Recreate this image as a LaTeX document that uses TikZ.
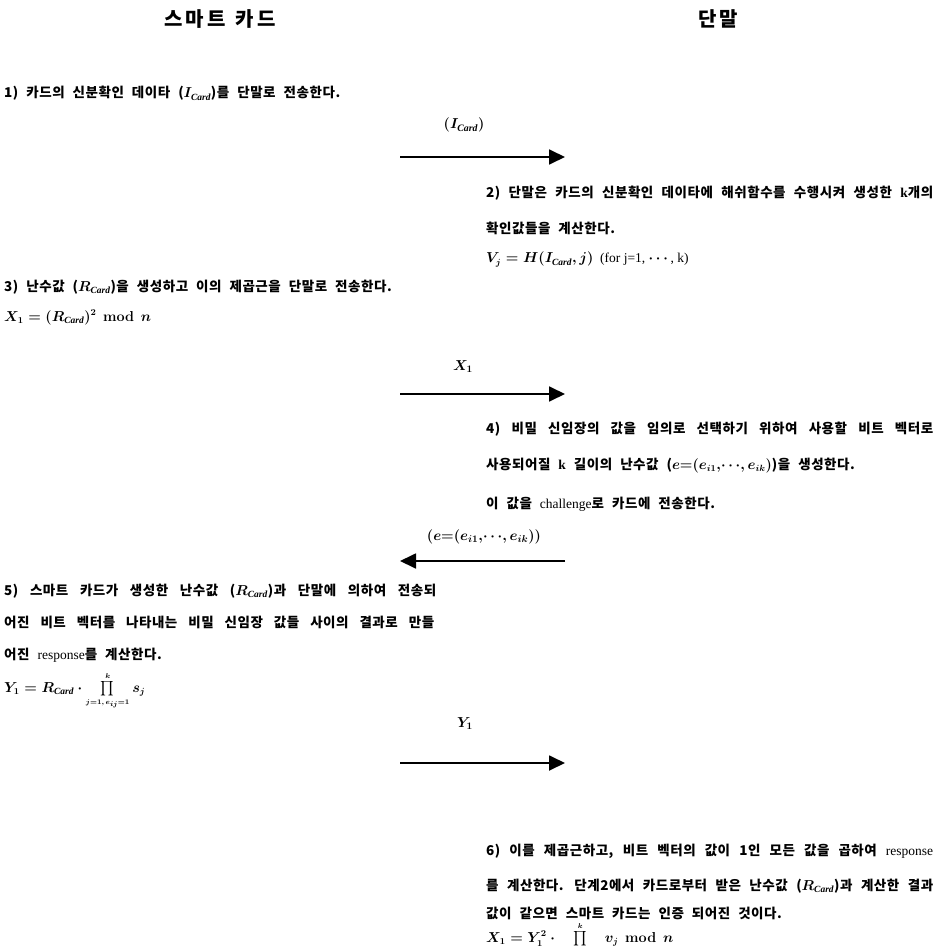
\documentclass[tikz,border=0pt]{standalone}
\usepackage{amsmath}
\usepackage{fontspec}
\usetikzlibrary{arrows.meta}
\setmainfont{Liberation Serif}
\newfontfamily\kr{Noto Sans CJK KR}[LetterSpace=4,WordSpace=2.2]
\newfontfamily\krh{Noto Sans CJK KR}[LetterSpace=16]
\newfontfamily\lat{Liberation Serif}
\newcommand{\full}[2]{\makebox[#1][s]{#2}}
\newcommand{\Cd}{\mathit{Card}}
\newcommand{\prodk}[1]{\mathop{\textstyle\prod}\limits_{\scriptscriptstyle #1}^{\scriptscriptstyle k}}
\newcommand{\modn}{\enspace\mathbf{mod}\enspace n}
\tikzset{
  hdr/.style={font=\krh\bfseries\fontsize{20}{20}\selectfont, inner sep=0pt, anchor=base},
  txt/.style={font=\kr\bfseries\fontsize{13.5}{13.5}\selectfont\boldmath, inner sep=0pt, anchor=base west},
  lbl/.style={font=\lat\bfseries\fontsize{14}{14}\selectfont\boldmath, inner sep=0pt, anchor=base},
  msg/.style={line width=1.8pt, -{Triangle[length=16pt,width=15pt]}},
}
\begin{document}
\begin{tikzpicture}[x=1pt,y=1pt]
\clip (0,0) rectangle (937,-949);
\fill[white] (0,0) rectangle (937,-949);
% headers
\node[hdr] (hcard) at (220,-27) {스마트\hspace{10pt}카드};
\node[hdr] (hterm) at (718,-27) {단말};
% step 1
\node[txt] (s1) at (4,-98) {1) 카드의 신분확인 데이타 ($I_{\Cd}$)를 단말로 전송한다.};
\node[lbl] (l1) at (464,-129) {$(I_{\Cd})$};
\coordinate (a1s) at (400,-157);
\coordinate (a1e) at (565,-157);
\draw[msg] (a1s) -- (a1e);
% step 2
\node[txt] (s2a) at (486,-198) {\full{447pt}{2) 단말은 카드의 신분확인 데이타에 해쉬함수를 수행시켜 생성한 {\lat k}개의}};
\node[txt] (s2b) at (486,-234) {확인값들을 계산한다.};
\node[txt] (s2c) at (486,-263) {$V_j = H(I_{\Cd}, j)$\enspace{\lat\mdseries (for j=1, $\cdots$, k)}};
% step 3
\node[txt] (s3) at (4,-291) {3) 난수값 ($R_{\Cd}$)을 생성하고 이의 제곱근을 단말로 전송한다.};
\node[txt] (s3f) at (4,-321) {$X_1 = (R_{\Cd})^2\modn$};
\node[lbl] (l2) at (463,-370) {$X_1$};
\coordinate (a2s) at (400,-394);
\coordinate (a2e) at (565,-394);
\draw[msg] (a2s) -- (a2e);
% step 4
\node[txt] (s4a) at (486,-433) {\full{447pt}{4) 비밀 신임장의 값을 임의로 선택하기 위하여 사용할 비트 벡터로}};
\node[txt] (s4b) at (486,-469) {사용되어질 {\lat k} 길이의 난수값 ($e{=}(e_{i1},\!\cdots\!,e_{ik})$)을 생성한다.};
\node[txt] (s4c) at (486,-508) {이 값을 {\lat\mdseries challenge}로 카드에 전송한다.};
\node[lbl] (l3) at (484,-540) {$(e{=}(e_{i1},\!\cdots\!,e_{ik}))$};
\coordinate (a3s) at (565,-561);
\coordinate (a3e) at (400,-561);
\draw[msg] (a3s) -- (a3e);
% step 5
\node[txt] (s5a) at (4,-595) {\full{432pt}{5) 스마트 카드가 생성한 난수값 ($R_{\Cd}$)과 단말에 의하여 전송되}};
\node[txt] (s5b) at (4,-627) {\full{430pt}{어진 비트 벡터를 나타내는 비밀 신임장 값들 사이의 결과로 만들}};
\node[txt] (s5c) at (4,-659) {어진 {\lat\mdseries response}를 계산한다.};
\node[txt] (s5f) at (4,-692) {$Y_1 = R_{\Cd}\cdot \prodk{j=1,\,e_{ij}=1} s_j$};
\node[lbl] (l4) at (465,-727) {$Y_1$};
\coordinate (a4s) at (400,-763);
\coordinate (a4e) at (565,-763);
\draw[msg] (a4s) -- (a4e);
% step 6
\node[txt] (s6a) at (486,-855) {\full{447pt}{6) 이를 제곱근하고, 비트 벡터의 값이 1인 모든 값을 곱하여 {\lat\mdseries response}}};
\node[txt] (s6b) at (486,-890) {\full{447pt}{를 계산한다. 단계2에서 카드로부터 받은 난수값 ($R_{\Cd}$)과 계산한 결과}};
\node[txt] (s6c) at (486,-918) {값이 같으면 스마트 카드는 인증 되어진 것이다.};
\node[txt] (s6f) at (486,-942) {$X_1 = Y_1^2\cdot \prodk{j=1,\,e_{ij}=1} v_j\modn$};
\end{tikzpicture}
\end{document}
